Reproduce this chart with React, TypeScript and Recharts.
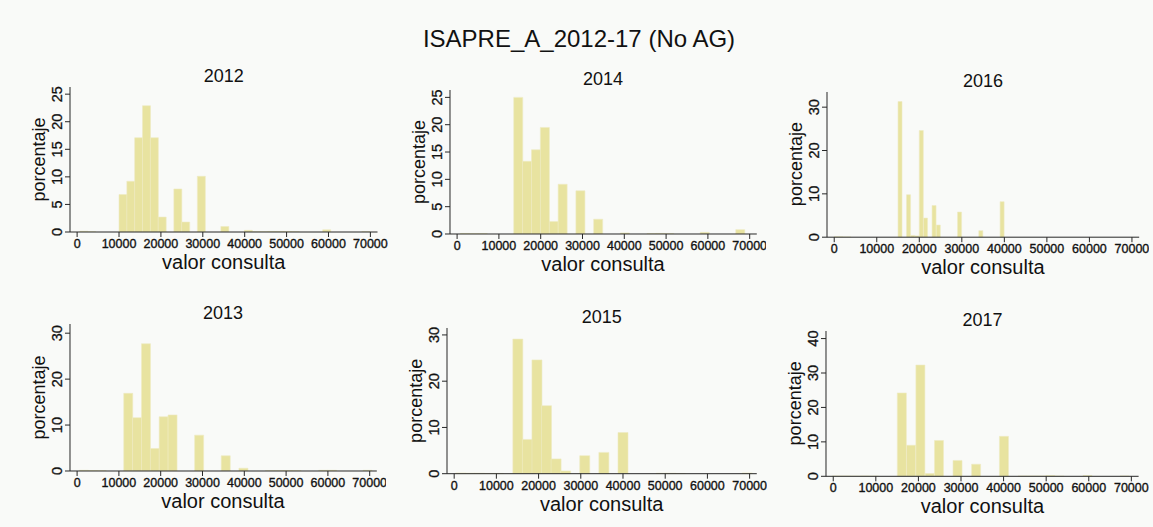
import React from 'react';
import { BarChart, Bar, XAxis, YAxis } from 'recharts';

const FONT = '"Liberation Sans", Arial, Helvetica, sans-serif';
const BAR_FILL = '#e8e3a0';
const BAR_EDGE = '#efebc2';
const INK = '#262626';
const BG = '#f9faf8';

const X_TICKS = [0, 10000, 20000, 30000, 40000, 50000, 60000, 70000];
const X_DOMAIN: [number, number] = [-1700, 71700];

// histogram bins: left edge of first bin, bin width, percent in each bin
const start2012 = 650;
const width2012 = 1870;
const pct2012 = [0.15, 0.05, 0, 0, 0, 6.8, 9.2, 17.1, 22.9, 17.1, 2.7, 0, 7.8, 1.8, 0, 10.1, 0, 0, 1.0, 0, 0, 0.3, 0.05, 0.05, 0.1, 0.1, 0.1, 0.05, 0, 0, 0, 0.4, 0, 0, 0, 0, 0.05];
const yTicks2012 = [0, 5, 10, 15, 20, 25];

const start2013 = 560;
const width2013 = 2120;
const pct2013 = [0.15, 0.1, 0.05, 0, 0, 16.9, 11.6, 27.7, 4.9, 11.8, 12.2, 0, 0, 7.8, 0, 0, 3.3, 0, 0.6, 0, 0, 0.05, 0.05, 0.1, 0.05, 0, 0, 0.15, 0.15, 0, 0, 0, 0.15];
const yTicks2013 = [0, 10, 20, 30];

const start2014 = 800;
const width2014 = 2125;
const pct2014 = [0.1, 0.05, 0.05, 0, 0, 0, 25.0, 13.3, 15.4, 19.5, 2.3, 9.1, 0, 7.9, 0, 2.7, 0, 0, 0.2, 0, 0, 0.05, 0.1, 0.05, 0, 0, 0, 0.3, 0, 0, 0, 0.8];
const yTicks2014 = [0, 5, 10, 15, 20, 25];

const start2015 = 310;
const width2015 = 2265;
const pct2015 = [0.15, 0.1, 0.1, 0.05, 0.05, 0, 29.1, 7.4, 24.6, 14.7, 3.2, 0.6, 0, 3.9, 0, 4.6, 0, 8.9, 0, 0, 0, 0.1, 0.1, 0.05, 0, 0, 0, 0, 0, 0, 0.15];
const yTicks2015 = [0, 10, 20, 30];

const start2016 = 0;
const width2016 = 1000;
const pct2016 = [0.1, 0.1, 0.05, 0.05, 0, 0, 0, 0, 0, 0, 0, 0, 0, 0, 0, 31.3, 0, 9.8, 0.4, 0.3, 24.6, 4.4, 0, 7.3, 2.8, 0, 0, 0, 0, 5.8, 0, 0, 0, 0, 1.5, 0, 0, 0, 0, 8.2, 0];
const yTicks2016 = [0, 10, 20, 30];

const start2017 = -210;
const width2017 = 2180;
const pct2017 = [0.1, 0.1, 0.05, 0.1, 0.05, 0, 0, 24.2, 9.0, 32.3, 0.8, 10.4, 0, 4.6, 0, 3.5, 0, 0, 11.6, 0, 0.1, 0.1, 0.1, 0.2, 0.05, 0, 0, 0.2, 0, 0, 0, 0.1];
const yTicks2017 = [0, 10, 20, 30, 40];

type Panel = {
  year: string;
  start: number;
  width: number;
  pct: number[];
  yTicks: number[];
  yMax: number;
  left: number;
  right: number;
  top: number;
  bottom: number;
};

const panels: Panel[] = [
  { year: '2012', start: start2012, width: width2012, pct: pct2012, yTicks: yTicks2012, yMax: 26.3, left: 70, right: 377.5, top: 87, bottom: 232 },
  { year: '2014', start: start2014, width: width2014, pct: pct2014, yTicks: yTicks2014, yMax: 26.35, left: 449.6, right: 756.4, top: 90, bottom: 234 },
  { year: '2016', start: start2016, width: width2016, pct: pct2016, yTicks: yTicks2016, yMax: 33.5, left: 826.8, right: 1139, top: 91.5, bottom: 236.7 },
  { year: '2013', start: start2013, width: width2013, pct: pct2013, yTicks: yTicks2013, yMax: 32, left: 69.6, right: 376.4, top: 324, bottom: 471 },
  { year: '2015', start: start2015, width: width2015, pct: pct2015, yTicks: yTicks2015, yMax: 31.5, left: 446.8, right: 756.6, top: 328, bottom: 473.7 },
  { year: '2017', start: start2017, width: width2017, pct: pct2017, yTicks: yTicks2017, yMax: 42.2, left: 826.1, right: 1138.7, top: 330.7, bottom: 476 },
];

const ML = 50;
const MT = 10;
const MR = 10;
const XH = 30;

const XTick = (props: any) => {
  const { x, y, payload } = props;
  return (
    <text x={x} y={y + 11} textAnchor="middle" fontSize={12.5} fontFamily={FONT} fill="#111" stroke="#111" strokeWidth={0.35}>
      {payload.value}
    </text>
  );
};

const YTick = (props: any) => {
  const { x, y, payload } = props;
  const bx = x - 3;
  return (
    <text x={bx} y={y} transform={`rotate(-90, ${bx}, ${y})`} textAnchor="middle" fontSize={14.5} fontFamily={FONT} fill="#111" stroke="#111" strokeWidth={0.3}>
      {payload.value}
    </text>
  );
};

function Histogram({ p }: { p: Panel }) {
  const data = p.pct.map((v, i) => ({ mid: p.start + (i + 0.5) * p.width, pct: v }));
  const w = p.right - p.left + ML + MR;
  const h = p.bottom - p.top + MT + XH;
  return (
    <div style={{ position: 'absolute', left: p.left - ML, top: p.top - MT }}>
      <BarChart width={w} height={h} data={data} margin={{ top: MT, right: MR, left: 0, bottom: 0 }} barCategoryGap={0} barGap={0}>
        <XAxis
          type="number"
          dataKey="mid"
          domain={X_DOMAIN}
          ticks={X_TICKS}
          interval={0}
          allowDataOverflow
          height={XH}
          tickSize={5}
          tickMargin={0}
          axisLine={{ stroke: INK }}
          tickLine={{ stroke: INK }}
          tick={XTick}
        />
        <YAxis
          type="number"
          domain={[0, p.yMax]}
          ticks={p.yTicks}
          interval={0}
          allowDataOverflow
          width={ML}
          tickSize={5}
          tickMargin={0}
          axisLine={{ stroke: INK }}
          tickLine={{ stroke: INK }}
          tick={YTick}
        />
        <Bar dataKey="pct" fill={BAR_FILL} stroke={BAR_EDGE} strokeWidth={0.6} isAnimationActive={false} />
      </BarChart>
    </div>
  );
}

export default function App() {
  return (
    <div style={{ position: 'absolute', left: 0, top: 0, width: 1153, height: 527, background: BG, overflow: 'hidden' }}>
      {panels.map((p) => (
        <Histogram key={p.year} p={p} />
      ))}
      <svg width={1153} height={527} style={{ position: 'absolute', left: 0, top: 0, pointerEvents: 'none' }}>
        <text x={579} y={47} textAnchor="middle" fontSize={24} fontFamily={FONT} fill="#111">
          ISAPRE_A_2012-17 (No AG)
        </text>
        {panels.map((p) => {
          const cx = (p.left + p.right) / 2;
          const cy = (p.top + p.bottom) / 2;
          const lx = p.left - 25;
          return (
            <g key={p.year}>
              <text x={cx} y={p.top - 5} textAnchor="middle" fontSize={18} fontFamily={FONT} fill="#111">
                {p.year}
              </text>
              <text x={cx} y={p.bottom + 37} textAnchor="middle" fontSize={20} fontFamily={FONT} fill="#111">
                valor consulta
              </text>
              <text x={lx} y={cy} transform={`rotate(-90, ${lx}, ${cy})`} textAnchor="middle" fontSize={18} fontFamily={FONT} fill="#111">
                porcentaje
              </text>
            </g>
          );
        })}
      </svg>
    </div>
  );
}
